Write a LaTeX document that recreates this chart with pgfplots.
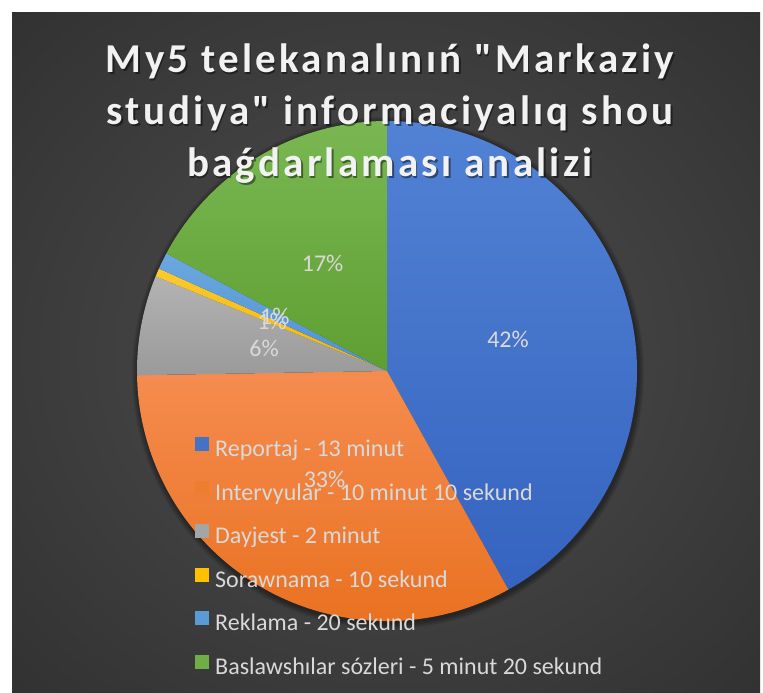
\documentclass[border=0pt]{standalone}
\usepackage{fontspec}
\setmainfont{Carlito}
\newfontfamily\titlefont[LetterSpace=8]{Carlito}
\usepackage{pgfplots}
\pgfplotsset{compat=1.18}
\usepackage{pgfplotstable}

\definecolor{bgin}{HTML}{4E4E4E}
\definecolor{bgout}{HTML}{262626}
\definecolor{lblcol}{HTML}{D9D9D9}
\definecolor{titlecol}{HTML}{F2F2F2}
\definecolor{cAt}{HTML}{5282D4}\definecolor{cAb}{HTML}{3563C0}\definecolor{cA}{HTML}{4472C4}
\definecolor{cBt}{HTML}{F58C4F}\definecolor{cBb}{HTML}{E86E1B}\definecolor{cB}{HTML}{ED7D31}
\definecolor{cCt}{HTML}{B3B3B3}\definecolor{cCb}{HTML}{9A9A9A}\definecolor{cC}{HTML}{A5A5A5}
\definecolor{cDt}{HTML}{FFC930}\definecolor{cDb}{HTML}{F2B600}\definecolor{cD}{HTML}{FFC000}
\definecolor{cEt}{HTML}{6CA8DF}\definecolor{cEb}{HTML}{4F91D0}\definecolor{cE}{HTML}{5B9BD5}
\definecolor{cFt}{HTML}{7AB752}\definecolor{cFb}{HTML}{5F9F32}\definecolor{cF}{HTML}{70AD47}

\pgfdeclareradialshading{bgshade}{\pgfpoint{0bp}{0bp}}{color(0bp)=(bgin); color(50bp)=(bgout)}

% durations in seconds
\pgfplotstableread{
idx sec
0 780
1 610
2 120
3 10
4 20
5 320
}\piedata

\pgfplotstablegetelem{0}{sec}\of\piedata \let\vA\pgfplotsretval
\pgfplotstablegetelem{1}{sec}\of\piedata \let\vB\pgfplotsretval
\pgfplotstablegetelem{2}{sec}\of\piedata \let\vC\pgfplotsretval
\pgfplotstablegetelem{3}{sec}\of\piedata \let\vD\pgfplotsretval
\pgfplotstablegetelem{4}{sec}\of\piedata \let\vE\pgfplotsretval
\pgfplotstablegetelem{5}{sec}\of\piedata \let\vF\pgfplotsretval
\pgfmathsetmacro\T{\vA+\vB+\vC+\vD+\vE+\vF}
\pgfmathsetmacro\aO{90}
\pgfmathsetmacro\aA{\aO-360*(\vA/\T)}
\pgfmathsetmacro\aB{\aA-360*(\vB/\T)}
\pgfmathsetmacro\aC{\aB-360*(\vC/\T)}
\pgfmathsetmacro\aD{\aC-360*(\vD/\T)}
\pgfmathsetmacro\aE{\aD-360*(\vE/\T)}
\pgfmathsetmacro\aF{\aE-360*(\vF/\T)}
\pgfmathtruncatemacro\pA{round(100*(\vA/\T))}
\pgfmathtruncatemacro\pB{round(100*(\vB/\T))}
\pgfmathtruncatemacro\pC{round(100*(\vC/\T))}
\pgfmathtruncatemacro\pD{round(100*(\vD/\T))}
\pgfmathtruncatemacro\pE{round(100*(\vE/\T))}
\pgfmathtruncatemacro\pF{round(100*(\vF/\T))}

\newcommand\slice[4]{%
  \shade[top color=#3, bottom color=#4] (axis cs:0,0) -- (axis cs:{cos(#1)},{sin(#1)})
    arc[start angle=#1, end angle=#2, radius=250pt] -- cycle;}
\newcommand\plabel[3]{%
  \node[text=lblcol, font=\fontsize{24}{28}\selectfont, inner sep=0pt]
    at (axis cs:{0.5*cos((#1+#2)/2)},{0.5*sin((#1+#2)/2)}) {#3\%};}

\pgfplotsset{sq/.style={legend image code/.code={\fill[##1, draw=none] (0pt,0pt) rectangle (14pt,14pt);}}}

\newcommand\titleline[2]{%
  \node[anchor=base, text=black, opacity=0.45, font=\titlefont\bfseries\fontsize{41}{52}\selectfont]
    at (391.5pt,#1-2pt) {#2};
  \node[anchor=base, text=titlecol, font=\titlefont\bfseries\fontsize{41}{52}\selectfont]
    at (390pt,#1) {#2};}

\begin{document}
\begin{tikzpicture}
\useasboundingbox (0,0) rectangle (763pt,693pt);
\shade[shading=bgshade] (12pt,0pt) rectangle (760pt,680pt);
\begin{axis}[
  anchor=origin, at={(387pt,322pt)},
  x=250pt, y=250pt,
  xmin=-1.05, xmax=1.05, ymin=-1.05, ymax=1.05,
  hide axis, clip=false,
  legend cell align=left,
  legend style={
    at={(0.1343,0.3743)}, anchor=north west,
    draw=none, fill=none, inner sep=0pt,
    nodes={inner sep=0pt, text height=16pt, text depth=5pt},
    row sep=19pt, column sep=6pt,
    font=\fontsize{24}{28}\selectfont, text=lblcol},
]
% soft shadow under the pie
\fill[black, opacity=0.07] (axis cs:0.004,-0.008) circle[radius=251pt];
\fill[black, opacity=0.07] (axis cs:0.004,-0.008) circle[radius=252pt];
\fill[black, opacity=0.07] (axis cs:0.004,-0.008) circle[radius=253pt];
\fill[black, opacity=0.07] (axis cs:0.004,-0.008) circle[radius=254pt];
\fill[black, opacity=0.07] (axis cs:0.004,-0.008) circle[radius=255pt];
\fill[black, opacity=0.07] (axis cs:0.004,-0.008) circle[radius=256pt];
\slice{\aO}{\aA}{cAt}{cAb}
\slice{\aA}{\aB}{cBt}{cBb}
\slice{\aB}{\aC}{cCt}{cCb}
\slice{\aC}{\aD}{cDt}{cDb}
\slice{\aD}{\aE}{cEt}{cEb}
\slice{\aE}{\aF}{cFt}{cFb}
\plabel{\aO}{\aA}{\pA}
\plabel{\aA}{\aB}{\pB}
\plabel{\aB}{\aC}{\pC}
\plabel{\aC}{\aD}{\pD}
\plabel{\aD}{\aE}{\pE}
\plabel{\aE}{\aF}{\pF}
\addlegendimage{sq, fill=cA}
\addlegendentry{Reportaj - 13 minut}
\addlegendimage{sq, fill=cB}
\addlegendentry{Intervyular - 10 minut 10 sekund}
\addlegendimage{sq, fill=cC}
\addlegendentry{Dayjest - 2 minut}
\addlegendimage{sq, fill=cD}
\addlegendentry{Sorawnama - 10 sekund}
\addlegendimage{sq, fill=cE}
\addlegendentry{Reklama - 20 sekund}
\addlegendimage{sq, fill=cF}
\addlegendentry{Baslawshılar sózleri - 5 minut 20 sekund}
\end{axis}
\titleline{620pt}{My5 telekanalınıń "Markaziy}
\titleline{568pt}{studiya" informaciyalıq shou}
\titleline{516pt}{baǵdarlaması analizi}
\end{tikzpicture}
\end{document}
